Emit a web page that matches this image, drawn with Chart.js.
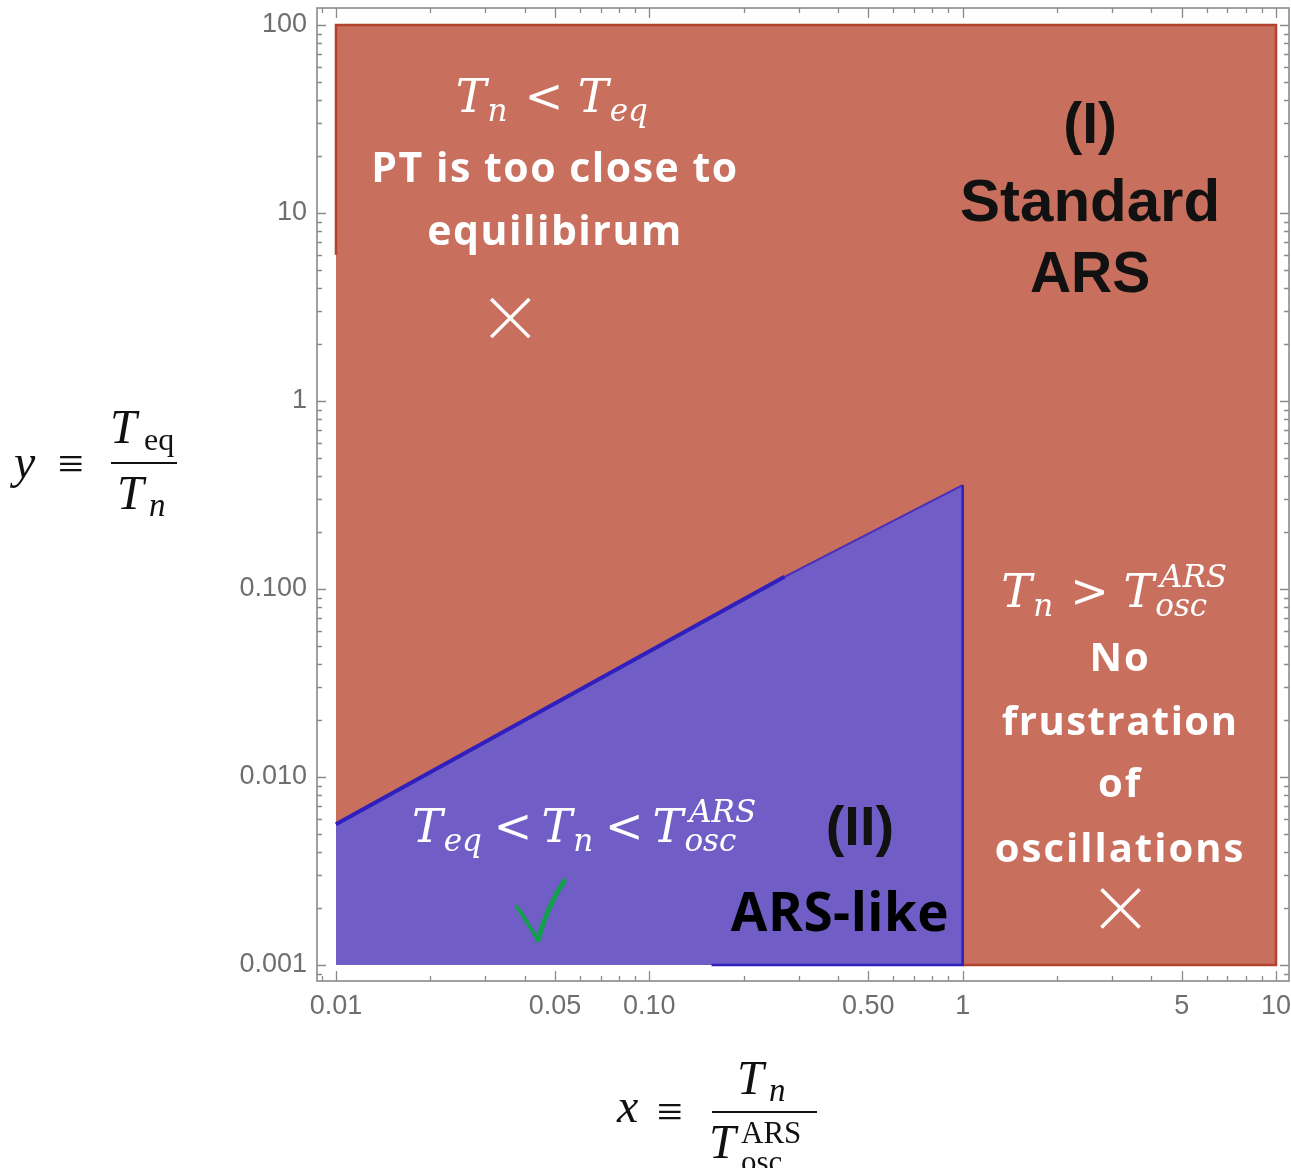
<!DOCTYPE html>
<html>
<head>
<meta charset="utf-8">
<title>ARS regimes</title>
<script src="https://cdn.jsdelivr.net/npm/chart.js@4.4.1/dist/chart.umd.min.js"></script>
<style>
  html, body { margin: 0; padding: 0; background: #fff; }
  canvas { display: block; }
</style>
</head>
<body>
<canvas id="regionChart" width="1291" height="1168"></canvas>
<script>
// axis ranges, slightly wider than the plotted box
const xRange = [0.0087, 11.0];
const yRange = [0.000822, 123];

// region (I): the whole box
const boxX = [0.01, 10];
const boxTop = 100;
const floorY = 0.001;
const boxEdgeX = [0.01, 0.01, 10, 10, 1];
const boxEdgeY = [6, 100, 100, 0.001, 0.001];

// region (II): upper edge
const edgeX = [0.01, 0.27, 1];
const edgeY = [0.0056, 0.116, 0.357];
// dark piece along the bottom of region (II)
const baseX = [0.158, 1];

// tick labels
const xLabelVals = [0.01, 0.05, 0.1, 0.5, 1, 5, 10];
const xLabelText = ["0.01", "0.05", "0.10", "0.50", "1", "5", "10"];
const yLabelVals = [0.001, 0.01, 0.1, 1, 10, 100];
const yLabelText = ["0.001", "0.010", "0.100", "1", "10", "100"];

// excluded points and the allowed one
const crossX = [0.036, 3.19];
const crossY = [2.76, 0.002];
const checkX = [0.0448];
const checkY = [0.00194];

const RED = "#c86f5d";
const RED_EDGE = "#b4432e";
const BLUE = "#705dc6";
const BLUE_EDGE = "#2f1fbd";

const pts = (xs, ys) => xs.map((x, i) => ({ x: x, y: ys[i] }));

// 1..9 x 10^n inside a range
function logTicks(min, max) {
    const out = [];
    for (let n = Math.floor(Math.log10(min)); n <= Math.ceil(Math.log10(max)); n++) {
        for (let k = 1; k <= 9; k++) {
            const v = Number((k * Math.pow(10, n)).toPrecision(6));
            if (v >= min && v <= max) out.push(v);
        }
    }
    return out;
}

function findLabel(vals, value) {
    return vals.findIndex(v => Math.abs(Math.log10(v) - Math.log10(value)) < 1e-6);
}

function checkGlyph() {
    const c = document.createElement("canvas");
    c.width = 54; c.height = 68;
    const g = c.getContext("2d");
    g.strokeStyle = "#13a04d";
    g.lineCap = "round";
    g.lineWidth = 4;
    g.beginPath(); g.moveTo(4, 30); g.quadraticCurveTo(14, 45, 25, 63); g.stroke();
    g.lineWidth = 5;
    g.beginPath(); g.moveTo(25, 63); g.quadraticCurveTo(34, 30, 51, 4); g.stroke();
    return c;
}

// text inside the regions, placed in data coordinates
const SANS = "'Open Sans', sans-serif";
const ARIAL = "'Liberation Sans', Arial, sans-serif";
const MATH = "'DejaVu Serif', serif";

const notes = [
    { x: 0.050, y: 17.6, text: "PT is too close to", font: "700 41px " + SANS, color: "#fff", spacing: 1.5, dy: 4 },
    { x: 0.050, y: 8.13, text: "equilibirum", font: "700 41px " + SANS, color: "#fff", spacing: 1.5, dy: 4 },
    { x: 2.55, y: 28.6, text: "(I)", font: "700 57px " + ARIAL, color: "#111" },
    { x: 2.55, y: 11.7, text: "Standard", font: "700 60px " + ARIAL, color: "#111", dy: 4 },
    { x: 2.55, y: 4.85, text: "ARS", font: "700 57px " + ARIAL, color: "#111", dy: 4 },
    { x: 3.18, y: 0.0434, text: "No", font: "700 40px " + SANS, color: "#fff", spacing: 2, dy: 2 },
    { x: 3.18, y: 0.0201, text: "frustration", font: "700 40px " + SANS, color: "#fff", spacing: 1.5, dy: 4 },
    { x: 3.18, y: 0.00929, text: "of", font: "700 40px " + SANS, color: "#fff", spacing: 2, dy: 3 },
    { x: 3.18, y: 0.00419, text: "oscillations", font: "700 40px " + SANS, color: "#fff", spacing: 2, dy: 3 },
    { x: 0.470, y: 0.00522, text: "(II)", font: "700 56px " + ARIAL, color: "#111" },
    { x: 0.406, y: 0.00191, text: "ARS-like", font: "700 53px " + SANS, color: "#000", spacing: 0.5, dy: 4 }
];

const formulas = [
    { x: 0.0493, y: 34.4, space: " ", parts: [{ b: "T", sub: "n" }, { op: "<" }, { b: "T", sub: "eq" }] },
    { x: 3.02, y: 0.0802, space: " ", parts: [{ b: "T", sub: "n" }, { op: ">" }, { b: "T", sub: "osc", sup: "ARS" }] },
    { x: 0.0614, y: 0.00451, space: "\u2009", parts: [{ b: "T", sub: "eq" }, { op: "<" }, { b: "T", sub: "n" }, { op: "<" }, { b: "T", sub: "osc", sup: "ARS" }] }
];

function drawFormula(ctx, f, cx, base, size, color) {
    const big = "italic " + size + "px " + MATH;
    const small = "italic " + Math.round(size * 0.68) + "px " + MATH;
    const up = size + "px " + MATH;
    const gap = size * 0.08;
    const opText = p => f.space + p.op + f.space;
    const widths = f.parts.map(p => {
        if (p.op) { ctx.font = up; return ctx.measureText(opText(p)).width; }
        ctx.font = big;
        const wb = ctx.measureText(p.b).width;
        ctx.font = small;
        const ws = Math.max(p.sub ? ctx.measureText(p.sub).width : 0, p.sup ? ctx.measureText(p.sup).width : 0);
        return wb + gap + ws;
    });
    let x = cx - widths.reduce((a, b) => a + b, 0) / 2;
    ctx.fillStyle = color;
    ctx.textAlign = "left";
    ctx.textBaseline = "alphabetic";
    f.parts.forEach((p, i) => {
        if (p.op) {
            ctx.font = up;
            ctx.fillText(opText(p), x, base);
        } else {
            ctx.font = big;
            ctx.fillText(p.b, x, base);
            const wb = ctx.measureText(p.b).width;
            ctx.font = small;
            if (p.sub) ctx.fillText(p.sub, x + wb + gap * 0.3, base + size * 0.2);
            if (p.sup) ctx.fillText(p.sup, x + wb + gap * 1.6, base - size * 0.44);
        }
        x += widths[i];
    });
}

const notesPlugin = {
    id: "notes",
    afterDatasetsDraw(chart) {
        const { ctx, scales: { x, y } } = chart;
        ctx.save();
        notes.forEach(n => {
            ctx.font = n.font;
            ctx.fillStyle = n.color;
            ctx.textAlign = "center";
            ctx.textBaseline = "middle";
            ctx.letterSpacing = (n.spacing || 0) + "px";
            ctx.fillText(n.text, x.getPixelForValue(n.x), y.getPixelForValue(n.y) + (n.dy || 0));
        });
        ctx.letterSpacing = "0px";
        formulas.forEach(f => {
            drawFormula(ctx, f, x.getPixelForValue(f.x), y.getPixelForValue(f.y), 46, "#fff");
        });
        ctx.restore();
    }
};

// frame with inward tick marks on all four sides
const framePlugin = {
    id: "frame",
    afterDraw(chart) {
        const { ctx, chartArea: a, scales: { x, y } } = chart;
        ctx.save();
        ctx.strokeStyle = "#8a8a8a";
        ctx.lineWidth = 1.6;
        ctx.strokeRect(a.left, a.top, a.right - a.left, a.bottom - a.top);
        ctx.lineWidth = 1.3;
        ctx.beginPath();
        x.ticks.forEach(t => {
            const px = Math.round(x.getPixelForValue(t.value)) + 0.5;
            const len = findLabel(xLabelVals, t.value) >= 0 ? 10 : 5;
            ctx.moveTo(px, a.bottom); ctx.lineTo(px, a.bottom - len);
            ctx.moveTo(px, a.top); ctx.lineTo(px, a.top + len);
        });
        y.ticks.forEach(t => {
            const py = Math.round(y.getPixelForValue(t.value)) + 0.5;
            const len = findLabel(yLabelVals, t.value) >= 0 ? 9 : 5;
            ctx.moveTo(a.left, py); ctx.lineTo(a.left + len, py);
            ctx.moveTo(a.right, py); ctx.lineTo(a.right - len, py);
        });
        ctx.stroke();
        ctx.restore();
    }
};

// axis titles in TeX style
const titlesPlugin = {
    id: "titles",
    afterDraw(chart) {
        const ctx = chart.ctx;
        const serif = "'Liberation Serif', 'Times New Roman', serif";
        const it = s => "italic " + s + "px " + serif;
        const rm = s => s + "px " + serif;
        ctx.save();
        ctx.fillStyle = "#111";
        ctx.strokeStyle = "#111";
        ctx.textBaseline = "alphabetic";
        ctx.textAlign = "left";

        // y = Teq / Tn
        ctx.font = it(48); ctx.fillText("y", 14, 478);
        ctx.font = rm(46); ctx.fillText("\u2261", 58, 479);
        ctx.lineWidth = 2.2;
        ctx.beginPath(); ctx.moveTo(111, 463); ctx.lineTo(177, 463); ctx.stroke();
        ctx.font = it(48); ctx.fillText("T", 110, 443);
        ctx.font = rm(32); ctx.fillText("eq", 144, 450);
        ctx.font = it(48); ctx.fillText("T", 117, 509);
        ctx.font = it(33); ctx.fillText("n", 149, 516);

        // x = Tn / Tosc^ARS
        ctx.font = it(48); ctx.fillText("x", 617, 1122);
        ctx.font = rm(46); ctx.fillText("\u2261", 657, 1127);
        ctx.beginPath(); ctx.moveTo(712, 1112); ctx.lineTo(817, 1112); ctx.stroke();
        ctx.font = it(48); ctx.fillText("T", 737, 1094);
        ctx.font = it(33); ctx.fillText("n", 769, 1101);
        ctx.font = it(48); ctx.fillText("T", 709, 1158);
        ctx.font = rm(31); ctx.fillText("ARS", 741, 1143);
        ctx.font = rm(31); ctx.fillText("osc", 741, 1172);
        ctx.restore();
    }
};

// fixed axis band, and no extra room for the end labels
function fixBox(size) {
    return s => {
        if (s.isHorizontal()) s.height = size; else s.width = size;
        s.paddingLeft = 0; s.paddingRight = 0;
        s.paddingTop = 0; s.paddingBottom = 0;
    };
}

let regionChart = null;

function renderRegionChart() {
    const ctx = document.getElementById("regionChart").getContext("2d");
    if (regionChart) regionChart.destroy();

    const crossed = pts(crossX, crossY);
    const checked = pts(checkX, checkY);

    regionChart = new Chart(ctx, {
        type: "line",
        data: {
            datasets: [
                {
                    label: "region I",
                    data: pts(boxX, [boxTop, boxTop]),
                    backgroundColor: RED,
                    borderWidth: 0,
                    pointRadius: 0,
                    fill: { value: floorY },
                    order: 6
                },
                {
                    label: "region I edge",
                    data: pts(boxEdgeX, boxEdgeY),
                    borderColor: RED_EDGE,
                    borderWidth: 2.5,
                    pointRadius: 0,
                    fill: false,
                    order: 5
                },
                {
                    label: "region II",
                    data: pts(edgeX, edgeY),
                    backgroundColor: BLUE,
                    borderColor: "#4a2fb8",
                    borderWidth: 2,
                    pointRadius: 0,
                    fill: { value: floorY },
                    order: 4
                },
                {
                    label: "region II edge",
                    data: pts(edgeX.slice(0, 2), edgeY.slice(0, 2)),
                    borderColor: BLUE_EDGE,
                    borderWidth: 4,
                    pointRadius: 0,
                    fill: false,
                    order: 3
                },
                {
                    label: "region II right",
                    data: pts([edgeX[2], edgeX[2], baseX[0]], [edgeY[2], floorY, floorY]),
                    borderColor: BLUE_EDGE,
                    borderWidth: 2.5,
                    pointRadius: 0,
                    fill: false,
                    order: 3
                },
                {
                    label: "excluded",
                    data: crossed,
                    showLine: false,
                    pointStyle: "crossRot",
                    pointRadius: 27,
                    borderColor: "#fff",
                    pointBorderWidth: 3.5,
                    order: 1
                },
                {
                    label: "allowed",
                    data: checked,
                    showLine: false,
                    pointStyle: checkGlyph(),
                    order: 1
                }
            ]
        },
        options: {
            responsive: false,
            animation: false,
            events: [],
            layout: { autoPadding: false, padding: { top: 8, right: 2, left: 0, bottom: 0 } },
            plugins: {
                legend: { display: false },
                tooltip: { enabled: false }
            },
            scales: {
                x: {
                    type: "logarithmic",
                    min: xRange[0],
                    max: xRange[1],
                    grid: { display: false, drawTicks: false },
                    border: { display: false },
                    afterBuildTicks: s => { s.ticks = logTicks(xRange[0], xRange[1]).map(v => ({ value: v })); },
                    afterFit: fixBox(187),
                    ticks: {
                        autoSkip: false,
                        maxRotation: 0,
                        padding: 9,
                        color: "#6e6e6e",
                        font: { family: "'Liberation Sans', Arial, sans-serif", size: 27 },
                        callback: v => { const i = findLabel(xLabelVals, v); return i >= 0 ? xLabelText[i] : ""; }
                    }
                },
                y: {
                    type: "logarithmic",
                    min: yRange[0],
                    max: yRange[1],
                    grid: { display: false, drawTicks: false },
                    border: { display: false },
                    afterBuildTicks: s => { s.ticks = logTicks(yRange[0], yRange[1]).map(v => ({ value: v })); },
                    afterFit: fixBox(317),
                    ticks: {
                        autoSkip: false,
                        padding: 10,
                        color: "#6e6e6e",
                        font: { family: "'Liberation Sans', Arial, sans-serif", size: 27 },
                        callback: v => { const i = findLabel(yLabelVals, v); return i >= 0 ? yLabelText[i] : ""; }
                    }
                }
            }
        },
        plugins: [notesPlugin, framePlugin, titlesPlugin]
    });
}

renderRegionChart();
</script>
</body>
</html>
